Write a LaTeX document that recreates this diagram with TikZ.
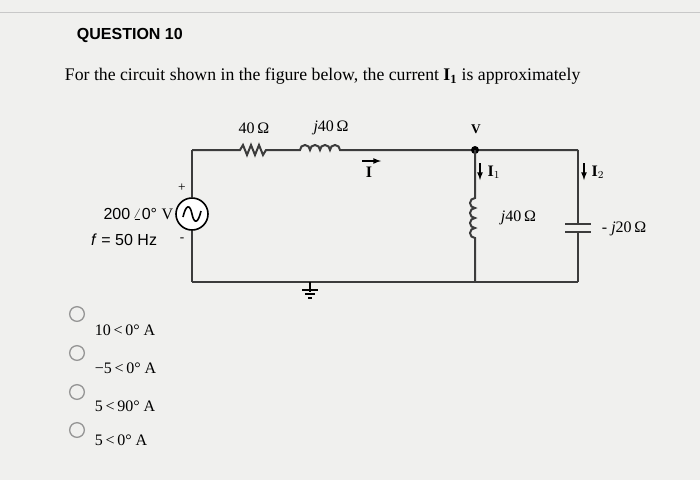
\documentclass[tikz,border=0pt]{standalone}
\usepackage{fontspec}
\setmainfont{Liberation Serif}
\setsansfont{Liberation Sans}
\usetikzlibrary{positioning}
\begin{document}
\tikzset{every picture/.style={line width=0.75pt}}
\tikzset{wire/.style={line width=1.5pt, color={rgb, 255:red, 60; green, 60; blue, 60}},
  lbl/.style={font=\large},
  opt/.style={draw={rgb, 255:red, 150; green, 150; blue, 150}, line width=1pt, circle, minimum size=11pt, inner sep=0pt}}

\begin{tikzpicture}[x=0.75pt,y=0.75pt,yscale=-1,xscale=1]
\useasboundingbox[fill={rgb, 255:red, 240; green, 240; blue, 238}] (0,0) rectangle (700,480);
\draw [color={rgb, 255:red, 200; green, 200; blue, 200}] (0,12) -- (700,12);

% Text Node
\node (qhead) [font=\sffamily\bfseries\large, anchor=west] at (72,35) {QUESTION 10};
% Text Node
\node (qtext) [font=\fontsize{13.3}{16}\selectfont, anchor=west] at (60,76) {For the circuit shown in the figure below, the current $\mathbf{I_1}$ is approximately};

% corners and taps
\coordinate (tl) at (192,150);
\coordinate (tr) at (578,150);
\coordinate (bl) at (192,282);
\coordinate (br) at (578,282);
\coordinate (vn) at (475,150);
\coordinate (vb) at (475,282);
\coordinate (gnd) at (310,282);

%Source
\node (src) [draw, circle, line width=1.2pt, minimum size=24pt, inner sep=0pt, fill=white] at (192,214) {};
\draw [line width=1.2pt] (183,217) .. controls (186,204) and (190,204) .. (192,214) .. controls (194,224) and (198,224) .. (201,211);
\draw [wire] (tl) -- (src.north);
\draw [wire] (src.south) -- (bl);

%Top branch: resistor and coil
\draw [wire] (tl) -- (240,150) -- (243,145) -- (247,155) -- (251,145) -- (255,155) -- (259,145) -- (263,155) -- (266,150) -- (300,150)
  arc (180:360:5) arc (180:360:5) arc (180:360:5) arc (180:360:5) -- (vn) -- (tr);
\fill (vn) circle (4);

%Shunt coil
\draw [wire] (vn) -- (475,198)
  arc (-90:-270:5) arc (-90:-270:5) arc (-90:-270:5) arc (-90:-270:5) -- (vb);

%Capacitor
\draw [wire] (tr) -- (578,224);
\draw [wire] (565,224) -- (591,224);
\draw [wire] (565,232) -- (591,232);
\draw [wire] (578,232) -- (br);

%Bottom wire and ground
\draw [wire] (bl) -- (br);
\draw [line width=1pt] (gnd) -- (310,292);
\draw [line width=1pt] (302,290) -- (318,290) (305,294) -- (315,294) (308,298) -- (312,298);

%Current arrows
\draw [line width=1pt, -latex] (362,161) -- (381,161);
\draw [line width=1pt, -latex] (480,163) -- (480,180);
\draw [line width=1pt, -latex] (584,163) -- (584,180);

% Labels
\node (lr) [lbl] at (254,128) {40\,Ω};
\node (lx) [lbl] at (331,128) {\textit{j}40\,Ω};
\node (lv) [font=\bfseries] at (476,129) {V};
\node (li) [font=\bfseries\large] at (369,172) {I};
\node (li1) [font=\bfseries\large] at (494,172) {I$_1$};
\node (li2) [font=\bfseries\large] at (598,172) {I$_2$};
\node (lp) at (182,188) {+};
\node (lm) at (182,240) {-};
\node (lsrc) [anchor=east, font=\large] at (178,214) {\sffamily 200\,$\angle$0° \rmfamily V};
\node (lf) [anchor=east, font=\sffamily\large] at (162,240) {\textit{f} = 50 Hz};
\node (lc1) [lbl, anchor=west] at (496,218) {\textit{j}40\,Ω};
\node (lc2) [lbl, anchor=west] at (597,229) {- \textit{j}20\,Ω};

% Options
\node (o1) [opt] at (77,314) {};
\node (o2) [opt] at (77,353) {};
\node (o3) [opt] at (77,392) {};
\node (o4) [opt] at (77,430) {};
\node (a1) [anchor=west, font=\large] at (90,330) {10\,<\,0° A};
\node (a2) [anchor=west, font=\large] at (90,368) {−5\,<\,0° A};
\node (a3) [anchor=west, font=\large] at (90,406) {5\,<\,90° A};
\node (a4) [anchor=west, font=\large] at (90,440) {5\,<\,0° A};

\end{tikzpicture}
\end{document}
